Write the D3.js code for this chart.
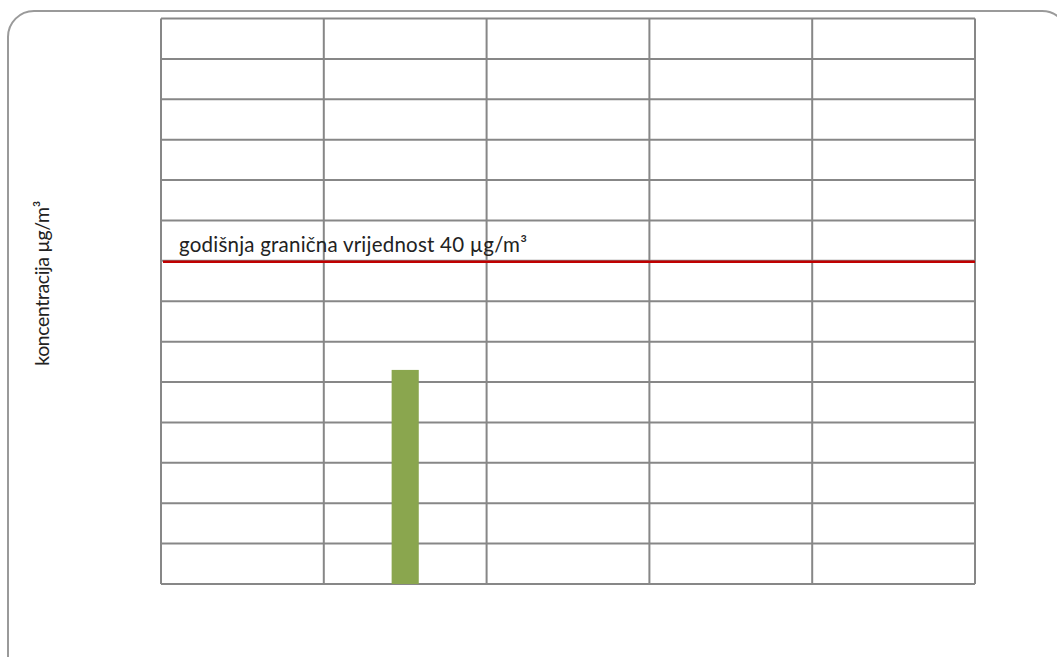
<!DOCTYPE html>
<html><head><meta charset="utf-8">
<script src="https://cdn.jsdelivr.net/npm/d3@7"></script>
<style>body{margin:0;background:#fff}svg{display:block}</style>
</head><body>
<svg id="c" width="1057" height="657"></svg>
<script>
const categories = ["k1", "k2", "k3", "k4", "k5"];
const values = [null, 26.5, null, null, null];
const limitValue = 40;
const limitLabel = "godišnja granična vrijednost 40 µg/m³";
const yTicks = d3.range(0, 75, 5);
const yLabel = "koncentracija µg/m³";

const svg = d3.select("#c");
const m = {l: 161, r: 975, t: 18.5, b: 584};
svg.append("rect").attr("x", 8).attr("y", 11).attr("width", 1060).attr("height", 680)
  .attr("rx", 26).attr("fill", "#fff").attr("stroke", "#9a9a9a").attr("stroke-width", 2);

const x = d3.scaleBand().domain(categories).range([m.l, m.r]);
const y = d3.scaleLinear().domain([0, 70]).range([m.b, m.t]);
const g = svg.append("g");

g.selectAll("line.h").data(yTicks).join("line").attr("class", "h")
  .attr("x1", m.l).attr("x2", m.r).attr("y1", d => y(d)).attr("y2", d => y(d))
  .attr("stroke", "#878787").attr("stroke-width", 2);
const vx = categories.map(c => x(c)).concat([m.r]);
g.selectAll("line.v").data(vx).join("line").attr("class", "v")
  .attr("x1", d => d).attr("x2", d => d).attr("y1", m.t).attr("y2", m.b)
  .attr("stroke", "#878787").attr("stroke-width", 2);

const bw = x.bandwidth() / 6;
g.selectAll("rect.bar").data(categories.map((c, i) => ({c, v: values[i]})).filter(d => d.v != null))
  .join("rect").attr("class", "bar")
  .attr("x", d => x(d.c) + x.bandwidth() / 2 - bw / 2).attr("width", bw)
  .attr("y", d => y(d.v)).attr("height", d => y(0) - y(d.v))
  .attr("fill", "#8aa64e");

g.append("line").attr("x1", m.l + 2).attr("x2", m.r).attr("y1", y(limitValue) + 1).attr("y2", y(limitValue) + 1)
  .attr("stroke", "#c00000").attr("stroke-width", 2.5);
g.append("text").attr("x", 179).attr("y", y(limitValue) - 9)
  .attr("font-family", "Lato, sans-serif").attr("font-size", 20.5).attr("fill", "#222")
  .attr("textLength", 348).attr("lengthAdjust", "spacing")
  .text(limitLabel);

svg.append("text").attr("transform", `translate(49,${(m.t + m.b) / 2 - 18}) rotate(-90)`)
  .attr("text-anchor", "middle").attr("font-family", "Lato, sans-serif").attr("font-size", 19.5).attr("fill", "#222")
  .attr("textLength", 165).attr("lengthAdjust", "spacing")
  .text(yLabel);
</script>
</body></html>
